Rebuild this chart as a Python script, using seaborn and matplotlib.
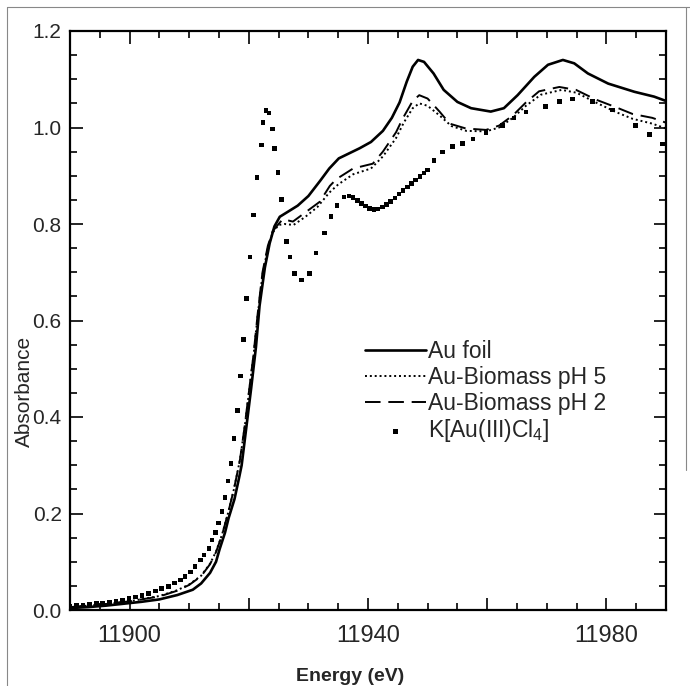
import numpy as np
import pandas as pd
import matplotlib
matplotlib.use("Agg")
import matplotlib.pyplot as plt
import seaborn as sns
from matplotlib.lines import Line2D

# ---------------- data ----------------
foil_E = [11890, 11893, 11896, 11899, 11902, 11905, 11908, 11910.6, 11912, 11913.5,
          11914.5, 11915.1, 11916, 11916.6, 11917.6, 11918.3, 11918.8, 11919.6, 11920.4,
          11921.2, 11921.8, 11922.7, 11923.5, 11924.3, 11925.2, 11926.9, 11928.2, 11930,
          11932, 11933.5, 11935.1, 11938.6, 11940.5, 11942.5, 11944, 11945.3, 11946.5,
          11947.5, 11948.4, 11949.4, 11951, 11952.7, 11955, 11957.3, 11960.6, 11962.8,
          11965.1, 11967.9, 11970.2, 11972.7, 11974.6, 11976.9, 11980.3, 11984.7, 11988,
          11990]
foil_A = [0.004, 0.006, 0.009, 0.013, 0.017, 0.022, 0.031, 0.042, 0.055, 0.077,
          0.100, 0.126, 0.160, 0.190, 0.230, 0.270, 0.300, 0.380, 0.460,
          0.545, 0.630, 0.710, 0.760, 0.795, 0.815, 0.828, 0.838, 0.858,
          0.890, 0.915, 0.936, 0.957, 0.970, 0.993, 1.020, 1.052, 1.095,
          1.126, 1.140, 1.136, 1.112, 1.078, 1.053, 1.040, 1.033, 1.040,
          1.067, 1.105, 1.130, 1.140, 1.133, 1.112, 1.091, 1.074, 1.064,
          1.055]

ph2_E = [11890, 11895, 11900, 11905, 11908, 11910, 11912, 11913.5, 11914.5, 11915.5,
         11916.5, 11917.5, 11918.5, 11919.3, 11920, 11920.8, 11921.5, 11922.3, 11923.2,
         11924, 11925, 11925.7, 11927.4, 11929.6, 11931.9, 11933.6, 11934.7, 11937.5,
         11940.8, 11942.5, 11944.7, 11945.8, 11947.5, 11948.6, 11950, 11952, 11953.7,
         11956.4, 11959.8, 11962, 11964.3, 11966.5, 11968.7, 11972.1, 11974.9, 11978.2,
         11981.6, 11984.4, 11987.7, 11990]
ph2_A = [0.006, 0.011, 0.018, 0.028, 0.040, 0.052, 0.070, 0.095, 0.120, 0.155,
         0.200, 0.250, 0.310, 0.380, 0.450, 0.530, 0.615, 0.700, 0.755,
         0.785, 0.800, 0.810, 0.805, 0.825, 0.846, 0.879, 0.893, 0.915,
         0.925, 0.950, 0.990, 1.018, 1.055, 1.067, 1.060, 1.033, 1.008,
         0.998, 0.995, 1.004, 1.025, 1.052, 1.075, 1.084, 1.078, 1.058,
         1.042, 1.028, 1.020, 1.010]

ph5_E = [11890, 11895, 11900, 11905, 11908, 11910, 11912, 11913.5, 11914.5, 11915.5,
         11916.5, 11917.5, 11918.5, 11919.3, 11920, 11920.8, 11921.5, 11922.3, 11923.2,
         11924, 11925, 11926, 11927.5, 11929.5, 11931.5, 11933.5, 11935, 11937.5,
         11940.5, 11942.5, 11944.7, 11946, 11947.5, 11948.6, 11950, 11952, 11954,
         11956.5, 11959.8, 11962, 11964.3, 11966.5, 11969, 11972.5, 11975, 11978.2,
         11981.6, 11984.4, 11987.7, 11990]
ph5_A = [0.006, 0.011, 0.018, 0.029, 0.041, 0.053, 0.071, 0.096, 0.121, 0.156,
         0.200, 0.250, 0.310, 0.378, 0.448, 0.528, 0.612, 0.695, 0.750,
         0.782, 0.798, 0.800, 0.798, 0.815, 0.835, 0.865, 0.882, 0.903,
         0.915, 0.940, 0.978, 1.010, 1.040, 1.050, 1.045, 1.025, 1.003,
         0.993, 0.992, 1.000, 1.020, 1.045, 1.068, 1.078, 1.072, 1.052,
         1.032, 1.018, 1.008, 0.998]

kau_E = [11890.0, 11891.1, 11892.2, 11893.3, 11894.4, 11895.5, 11896.6, 11897.7, 11898.8,
         11899.9, 11901.0, 11902.1, 11903.2, 11904.3, 11905.4, 11906.5, 11907.5, 11908.5,
         11909.3, 11910.2, 11911.0, 11911.9, 11912.5, 11913.3, 11913.8, 11914.4, 11914.9,
         11915.5, 11916.0, 11916.5, 11917.0, 11917.5, 11918.1, 11918.6, 11919.1, 11919.6,
         11920.2, 11920.8, 11921.4, 11922.1, 11922.4, 11922.9, 11923.4, 11924.0, 11924.3,
         11924.9, 11925.5, 11926.3, 11926.9, 11927.7, 11928.8, 11930.2, 11931.3, 11932.7,
         11933.8, 11934.8, 11936.0, 11936.8, 11937.5, 11938.2, 11938.9, 11939.6, 11940.3,
         11941.0, 11941.7, 11942.4, 11943.1, 11943.8, 11944.5, 11945.2, 11945.9, 11946.6,
         11947.3, 11948.0, 11948.7, 11949.4, 11950.0, 11951.1, 11952.5, 11954.2, 11955.9,
         11957.6, 11959.8, 11962.6, 11964.5, 11966.5, 11969.8, 11972.1, 11974.3, 11977.7,
         11981.0, 11984.9, 11987.2, 11989.4]
kau_A = [0.007, 0.009, 0.010, 0.011, 0.013, 0.014, 0.016, 0.018, 0.021,
         0.024, 0.027, 0.030, 0.034, 0.039, 0.044, 0.049, 0.056, 0.062,
         0.069, 0.079, 0.090, 0.104, 0.114, 0.128, 0.145, 0.160, 0.180,
         0.204, 0.233, 0.267, 0.304, 0.355, 0.413, 0.485, 0.560, 0.645,
         0.732, 0.819, 0.896, 0.964, 1.010, 1.035, 1.030, 0.997, 0.957,
         0.907, 0.851, 0.764, 0.732, 0.698, 0.684, 0.698, 0.740, 0.781,
         0.816, 0.838, 0.856, 0.858, 0.855, 0.849, 0.843, 0.837, 0.832,
         0.830, 0.831, 0.835, 0.841, 0.847, 0.854, 0.862, 0.870, 0.877,
         0.884, 0.891, 0.899, 0.906, 0.912, 0.931, 0.949, 0.960, 0.967,
         0.976, 0.990, 1.004, 1.020, 1.032, 1.043, 1.054, 1.059, 1.054,
         1.036, 1.004, 0.985, 0.966]

series_labels = ["Au foil", "Au-Biomass pH 5", "Au-Biomass pH 2", "K[Au(III)Cl$_4$]"]
x_ticks = [11900, 11920, 11940, 11960, 11980]
x_ticklabels = ["11900", "", "11940", "", "11980"]
y_ticks = [0.0, 0.2, 0.4, 0.6, 0.8, 1.0, 1.2]
y_ticklabels = ["0.0", "0.2", "0.4", "0.6", "0.8", "1.0", "1.2"]

# ---------------- style ----------------
sns.set_style("ticks")
plt.rcParams["font.family"] = ["Liberation Sans", "DejaVu Sans"]
plt.rcParams["mathtext.fontset"] = "custom"
plt.rcParams["mathtext.rm"] = "Liberation Sans"
plt.rcParams["mathtext.it"] = "Liberation Sans:italic"
plt.rcParams["mathtext.bf"] = "Liberation Sans:bold"

fig = plt.figure(figsize=(6.9, 6.86), dpi=100)
ax = fig.add_axes([70 / 690, 1 - 610 / 686, 596 / 690, 579 / 686])

sns.lineplot(x=foil_E, y=foil_A, ax=ax, color="black", linewidth=1.9,
             estimator=None, sort=False, label=series_labels[0])
sns.lineplot(x=ph5_E, y=ph5_A, ax=ax, color="black", linewidth=1.4,
             linestyle=(0, (1, 1.5)), estimator=None, sort=False, label=series_labels[1])
sns.lineplot(x=ph2_E, y=ph2_A, ax=ax, color="black", linewidth=1.4,
             linestyle=(0, (8, 4)), estimator=None, sort=False, label=series_labels[2])
sns.scatterplot(x=kau_E, y=kau_A, ax=ax, color="black", marker="s", s=11,
                edgecolor="none", label=series_labels[3])

ax.set_xlim(11890, 11990)
ax.set_ylim(0.0, 1.2)
ax.set_xticks(x_ticks)
ax.set_xticklabels(x_ticklabels)
ax.set_yticks(y_ticks)
ax.set_yticklabels(y_ticklabels)
ax.xaxis.set_minor_locator(matplotlib.ticker.MultipleLocator(5))
ax.yaxis.set_minor_locator(matplotlib.ticker.MultipleLocator(0.05))
ax.tick_params(which="both", direction="in", top=True, right=True, color="black",
               width=1.2)
ax.tick_params(which="major", length=9)
ax.tick_params(which="minor", length=5)
ax.tick_params(axis="x", which="major", labelsize=17, pad=11)
ax.tick_params(axis="y", which="major", labelsize=15, pad=6)
for sp in ax.spines.values():
    sp.set_visible(True)
    sp.set_linewidth(1.6)
    sp.set_color("black")

ax.set_ylabel("Absorbance", fontsize=15)
ax.yaxis.set_label_coords(-0.061, 0.378)
ax.set_xlabel("Energy (eV)", fontsize=14, fontweight="bold")
ax.xaxis.set_label_coords(0.47, -0.1010)

leg = ax.legend(loc="upper left", bbox_to_anchor=(0.495, 0.466), frameon=False,
                fontsize=16.5, handlelength=2.65, handletextpad=0.12, borderpad=0,
                borderaxespad=0, labelspacing=0.12, markerscale=1.2)

# thin scan frame around the figure
fig.add_artist(Line2D([7 / 690, 7 / 690], [0, 1 - 7 / 686], transform=fig.transFigure,
                      color="#888888", lw=0.8))
fig.add_artist(Line2D([7 / 690, 1], [1 - 7 / 686, 1 - 7 / 686], transform=fig.transFigure,
                      color="#888888", lw=0.8))
fig.add_artist(Line2D([686 / 690, 686 / 690], [1 - 470 / 686, 1 - 7 / 686],
                      transform=fig.transFigure, color="#888888", lw=0.8))

fig.savefig("out.png", dpi=100)
